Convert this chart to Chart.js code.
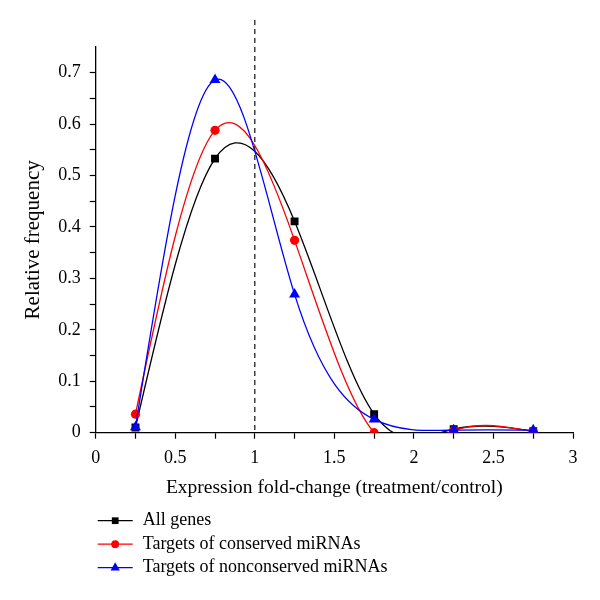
<!DOCTYPE html>
<html>
<head>
<meta charset="utf-8">
<script src="https://cdn.jsdelivr.net/npm/chart.js@4"></script>
<style>
  html, body { margin: 0; padding: 0; background: #fff; }
  #wrap { width: 600px; height: 600px; }
</style>
</head>
<body>
<div id="wrap"><canvas id="chart"></canvas></div>
<script>
const foldChange = [0.25, 0.75, 1.25, 1.75, 2.25, 2.75];
const allGenes = [0.010, 0.533, 0.411, 0.036, 0.007, 0.003];
const conservedTargets = [0.036, 0.588, 0.374, 0.000, 0.004, 0.002];
const nonconservedTargets = [0.011, 0.686, 0.269, 0.026, 0.005, 0.005];

const seriesNames = ['All genes', 'Targets of conserved miRNAs', 'Targets of nonconserved miRNAs'];
const seriesColors = ['#000000', '#ff0000', '#0000ff'];
const seriesMarkers = ['rect', 'circle', 'triangle'];
const markerSizes = [5.6, 4.6, 6.3];

const xTickLabels = ['0', '0.5', '1', '1.5', '2', '2.5', '3'];
const yTickLabels = ['0', '0.1', '0.2', '0.3', '0.4', '0.5', '0.6', '0.7'];
const thresholdX = 1;

const FONT = "'Liberation Serif', 'DejaVu Serif', serif";

const seriesValues = [allGenes, conservedTargets, nonconservedTargets];
const datasets = seriesValues.map((vals, i) => ({
  label: seriesNames[i],
  data: vals.map((y, j) => ({ x: foldChange[j], y: y })),
  showLine: true,
  borderColor: seriesColors[i],
  backgroundColor: seriesColors[i],
  borderWidth: 1.3,
  tension: 0.4,
  pointStyle: seriesMarkers[i],
  pointRadius: markerSizes[i],
  pointHoverRadius: markerSizes[i],
  pointBorderWidth: 0,
  order: 2 - i
}));

// slopes of a natural cubic spline through (xs, ys)
function splineSlopes(xs, ys) {
  const n = xs.length;
  const h = [];
  for (let i = 0; i < n - 1; i++) h.push(xs[i + 1] - xs[i]);
  const M = new Array(n).fill(0);
  const c = new Array(n).fill(0);
  const d = new Array(n).fill(0);
  for (let i = 1; i < n - 1; i++) {
    const a = h[i - 1], b = 2 * (h[i - 1] + h[i]), cc = h[i];
    const r = 6 * ((ys[i + 1] - ys[i]) / h[i] - (ys[i] - ys[i - 1]) / h[i - 1]);
    const den = b - a * c[i - 1];
    c[i] = cc / den;
    d[i] = (r - a * d[i - 1]) / den;
  }
  for (let i = n - 2; i >= 1; i--) M[i] = d[i] - c[i] * M[i + 1];
  const s = [];
  for (let i = 0; i < n - 1; i++) {
    s.push((ys[i + 1] - ys[i]) / h[i] - h[i] * (2 * M[i] + M[i + 1]) / 6);
  }
  s.push((ys[n - 1] - ys[n - 2]) / h[n - 2] + h[n - 2] * (M[n - 2] + 2 * M[n - 1]) / 6);
  return s;
}

// swap chart.js' own bezier handles for spline ones (same points, same scales)
const splineCurves = {
  id: 'splineCurves',
  beforeDatasetDraw(chart, args) {
    const meta = args.meta;
    const line = meta.dataset;
    if (!line) return;
    line.updateControlPoints(chart.chartArea, 'x');
    const raw = chart.data.datasets[args.index].data;
    const xs = raw.map(p => p.x);
    const ys = raw.map(p => p.y);
    const s = splineSlopes(xs, ys);
    const xs_ = chart.scales.x, ys_ = chart.scales.y;
    const n = xs.length;
    meta.data.forEach((pt, i) => {
      if (i > 0) {
        const h = xs[i] - xs[i - 1];
        pt.cp1x = xs_.getPixelForValue(xs[i] - h / 3);
        pt.cp1y = ys_.getPixelForValue(ys[i] - s[i] * h / 3);
      }
      if (i < n - 1) {
        const h = xs[i + 1] - xs[i];
        pt.cp2x = xs_.getPixelForValue(xs[i] + h / 3);
        pt.cp2y = ys_.getPixelForValue(ys[i] + s[i] * h / 3);
      }
    });
    line._path = undefined;
  }
};

// dashed line at fold-change 1 + legend with line and marker
const extras = {
  id: 'extras',
  beforeDatasetsDraw(chart) {
    const ctx = chart.ctx;
    const area = chart.chartArea;
    const x = chart.scales.x.getPixelForValue(thresholdX);
    ctx.save();
    ctx.strokeStyle = '#222';
    ctx.lineWidth = 1.3;
    ctx.setLineDash([5, 4]);
    ctx.beginPath();
    ctx.moveTo(x, area.top - 27);
    ctx.lineTo(x, area.bottom);
    ctx.stroke();
    ctx.restore();
  },
  afterDraw(chart) {
    const ctx = chart.ctx;
    const area = chart.chartArea;
    const x0 = area.left + 2;
    ctx.save();
    ctx.font = '18px ' + FONT;
    ctx.textBaseline = 'middle';
    chart.data.datasets.forEach((ds, i) => {
      const y = area.bottom + 88 + i * 23.5;
      ctx.strokeStyle = ds.borderColor;
      ctx.lineWidth = 1.3;
      ctx.beginPath();
      ctx.moveTo(x0, y);
      ctx.lineTo(x0 + 35, y);
      ctx.stroke();
      ctx.fillStyle = ds.backgroundColor;
      Chart.helpers.drawPoint(ctx, {
        pointStyle: ds.pointStyle,
        radius: ds.pointRadius * 0.85,
        rotation: 0,
        borderWidth: 0
      }, x0 + 17.5, y);
      ctx.fillStyle = '#000';
      ctx.fillText(ds.label, x0 + 45, y);
    });
    ctx.restore();
  }
};

new Chart(document.getElementById('chart'), {
  type: 'scatter',
  data: { datasets },
  options: {
    responsive: true,
    maintainAspectRatio: false,
    animation: false,
    layout: { padding: { left: 8, right: 27, top: 47, bottom: 102 } },
    plugins: {
      legend: { display: false },
      tooltip: { enabled: false }
    },
    scales: {
      x: {
        type: 'linear',
        min: 0,
        max: 3,
        border: { display: true, color: '#000', width: 1.3 },
        grid: {
          drawOnChartArea: false,
          drawTicks: true,
          tickLength: 6,
          tickColor: '#000',
          tickWidth: 1.2
        },
        ticks: {
          stepSize: 0.25,
          autoSkip: false,
          maxRotation: 0,
          padding: 10,
          color: '#000',
          font: { family: FONT, size: 18, lineHeight: 1.1 },
          callback: (v) => {
            const k = Math.round(v / 0.5);
            return Math.abs(v - k * 0.5) < 1e-6 ? xTickLabels[k] : '';
          }
        },
        title: {
          display: true,
          text: 'Expression fold-change (treatment/control)',
          color: '#000',
          font: { family: FONT, size: 19.5, lineHeight: 1.0 },
          padding: { top: 0, bottom: 0 }
        }
      },
      y: {
        type: 'linear',
        min: 0,
        max: 0.75,
        border: { display: true, color: '#000', width: 1.3 },
        grid: {
          drawOnChartArea: false,
          drawTicks: true,
          tickLength: 6,
          tickWidth: 1.2,
          tickColor: (c) => (c.tick && c.tick.value > 0.74 ? 'rgba(0,0,0,0)' : '#000')
        },
        ticks: {
          stepSize: 0.05,
          autoSkip: false,
          padding: 9,
          color: '#000',
          font: { family: FONT, size: 18 },
          callback: (v) => {
            const k = Math.round(v / 0.1);
            return Math.abs(v - k * 0.1) < 1e-6 && k < yTickLabels.length ? yTickLabels[k] : '';
          }
        },
        title: {
          display: true,
          text: 'Relative frequency',
          color: '#000',
          font: { family: FONT, size: 21 },
          padding: { top: 13, bottom: 3 }
        }
      }
    }
  },
  plugins: [splineCurves, extras]
});
</script>
</body>
</html>
